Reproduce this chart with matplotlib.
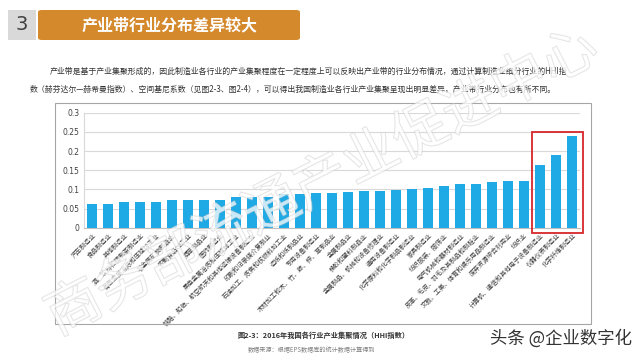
import matplotlib
matplotlib.use("Agg")
import matplotlib.pyplot as plt
from matplotlib.patches import Rectangle, FancyBboxPatch
import matplotlib.patheffects as pe

plt.rcParams['font.family'] = ['Noto Sans CJK SC', 'DejaVu Sans']

categories = [
    "汽车制造业", "食品制造业", "其他制造业", "酒、饮料和精制茶制造业",
    "有色金属冶炼和压延加工业", "非金属矿物制品业", "农副食品加工业", "烟草制品业",
    "医药制造业", "黑色金属冶炼和压延加工业", "铁路、船舶、航空航天和其他运输设备制造业",
    "印刷和记录媒介复制业", "石油加工、炼焦和核燃料加工业", "造纸和纸制品业",
    "专用设备制造业", "木材加工和木、竹、藤、棕、草制品业", "金属制品业",
    "橡胶和塑料制品业", "金属制品、机械和设备修理业", "通用设备制造业",
    "化学原料和化学制品制造业", "家具制造业", "纺织服装、服饰业",
    "电气机械和器材制造业", "皮革、毛皮、羽毛及其制品和制鞋业",
    "文教、工美、体育和娱乐用品制造业", "废弃资源综合利用业", "纺织业",
    "计算机、通信和其他电子设备制造业", "仪器仪表制造业", "化学纤维制造业",
]
hhi = [0.061, 0.063, 0.066, 0.068, 0.068, 0.072, 0.073, 0.073, 0.073, 0.079,
       0.079, 0.081, 0.087, 0.087, 0.090, 0.091, 0.092, 0.095, 0.096, 0.098,
       0.100, 0.103, 0.110, 0.113, 0.115, 0.118, 0.121, 0.121, 0.163, 0.189, 0.240]
y_ticks = [0, 0.05, 0.1, 0.15, 0.2, 0.25, 0.3]
y_tick_labels = ["0", "0.05", "0.1", "0.15", "0.2", "0.25", "0.3"]

title = "产业带行业分布差异较大"
section_no = "3"
para1 = "产业带是基于产业集聚形成的，因此制造业各行业的产业集聚程度在一定程度上可以反映出产业带的行业分布情况，通过计算制造业细分行业的HHI指"
para2 = "数（赫芬达尔—赫希曼指数）、空间基尼系数（见图2-3、图2-4），可以得出我国制造业各行业产业集聚呈现出明显差异，产业带行业分布也有所不同。"
caption = "图2-3：2016年我国各行业产业集聚情况（HHI指数）"
source = "数据来源：根据EPS数据库的统计数据计算得到"
watermark = "商务部流通产业促进中心"
credit = "头条 @企业数字化"

W, H = 640, 361
fig = plt.figure(figsize=(6.4, 3.61), dpi=100)
fig.patch.set_facecolor("white")

def F(x, y):
    return (x / W, 1 - y / H)

# header
fig.add_artist(Rectangle(F(8, 40), 28 / W, 30 / H, transform=fig.transFigure,
                         facecolor="#D9D9D9", edgecolor="none"))
fig.add_artist(FancyBboxPatch(F(38, 40), 262 / W, 30 / H, transform=fig.transFigure,
                              boxstyle="round,pad=0,rounding_size=0.006",
                              facecolor="#D4892C", edgecolor="none"))
fig.text(*F(22, 25), section_no, ha="center", va="center", fontsize=14,
         color="#404040", family=["Liberation Sans Narrow", "DejaVu Sans"])
fig.text(*F(170, 25), title, ha="center", va="center", fontsize=11.5,
         color="white", fontweight="bold")

# paragraph
fig.text(*F(50, 71), para1, ha="left", va="center", fontsize=5.7, color="#333333")
fig.text(*F(30, 89), para2, ha="left", va="center", fontsize=5.7, color="#333333")

# chart frame
fig.add_artist(Rectangle(F(55, 324), (591 - 55) / W, (324 - 103) / H,
                         transform=fig.transFigure, facecolor="none",
                         edgecolor="#A6A6A6", lw=0.8))

ax = fig.add_axes([84 / W, 1 - 227.7 / H, 496 / W, (227.7 - 112.7) / H])
x = list(range(len(hhi)))
ax.bar(x, hhi, width=0.58, color="#1FAAE6", zorder=3)
ax.set_xlim(-0.5, len(hhi) - 0.5)
ax.set_ylim(0, 0.3)
ax.set_yticks(y_ticks)
ax.set_yticklabels(y_tick_labels, fontsize=5.5, color="#404040",
                   family=["DejaVu Sans"])
ax.set_xticks(x)
ax.set_xticklabels(categories, rotation=45, ha="right", rotation_mode="anchor",
                   fontsize=4.6, color="#404040")
ax.tick_params(axis="both", length=0, pad=3)
ax.grid(axis="y", color="#D9D9D9", lw=0.8, zorder=0)
for s in ["top", "right"]:
    ax.spines[s].set_visible(False)
ax.spines["left"].set_color("#D9D9D9")
ax.spines["bottom"].set_color("#BFBFBF")
ax.set_facecolor("white")

# highlight box around the last three bars
n = len(hhi)
ax.add_patch(Rectangle((n - 3.52, -0.013), 3.2, max(hhi) + 0.023, fill=False,
                       edgecolor="#D7262B", lw=1.3, clip_on=False, zorder=5))

# caption and source
fig.text(*F(237, 335), caption, ha="left", va="center", fontsize=5.2,
         fontweight="bold", color="#333333")
fig.text(*F(248, 350), source, ha="left", va="center", fontsize=4.4, color="#7F7F7F")
fig.text(*F(632, 338), credit, ha="right", va="center", fontsize=12.5, color="#333333")

# watermark
fig.text(*F(322, 183), watermark, ha="center", va="center", fontsize=40,
         rotation=27, color="white", alpha=0.5, zorder=10,
         path_effects=[pe.Stroke(linewidth=0.9, foreground="#C4C4C4"), pe.Normal()])

fig.savefig("out.png", dpi=100)
